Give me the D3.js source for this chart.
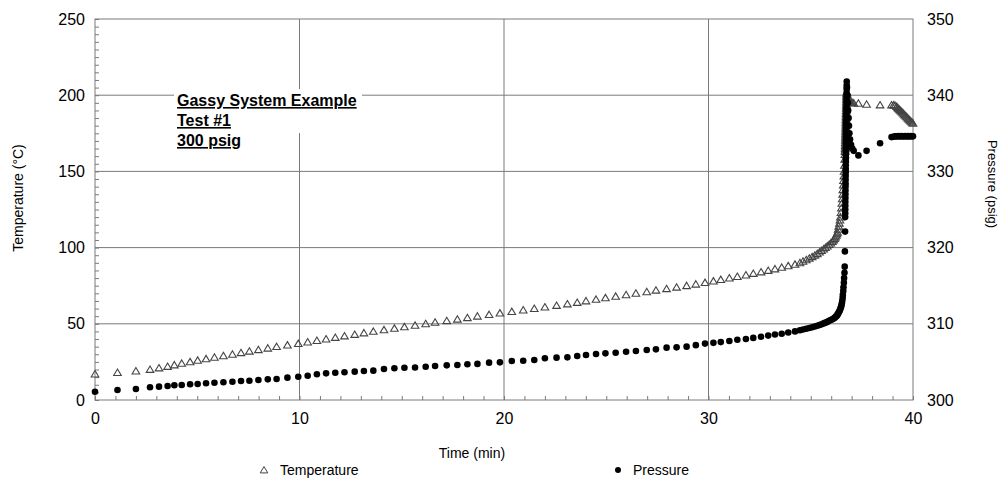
<!DOCTYPE html>
<html>
<head>
<meta charset="utf-8">
<title>Gassy System Example</title>
<script src="https://cdn.jsdelivr.net/npm/d3@7"></script>
<style>
    body { margin: 0; background: #fff; }
    text { font-family: Arial, "Liberation Sans", sans-serif; fill: #000; }
</style>
</head>
<body>
<div id="chart"></div>
<script>
var timeMin = [
    0, 1.1, 2.0, 2.69, 3.13, 3.55, 3.88, 4.24, 4.65, 5.02,
    5.43, 5.84, 6.28, 6.72, 7.14, 7.55, 7.99, 8.45, 8.88, 9.41,
    9.94, 10.40, 10.85, 11.30, 11.75, 12.20, 12.70, 13.15, 13.61, 14.13,
    14.64, 15.13, 15.65, 16.17, 16.63, 17.20, 17.72, 18.21, 18.70, 19.27,
    19.80, 20.38, 20.94, 21.48, 22.00, 22.57, 23.10, 23.58, 24.01, 24.50,
    24.96, 25.46, 25.97, 26.45, 26.98, 27.43, 27.95, 28.44, 28.93, 29.38,
    29.83, 30.24, 30.60, 31.02, 31.41, 31.83, 32.19, 32.57, 32.92, 33.25,
    33.58, 33.90, 34.23, 34.47, 34.62, 34.78, 34.93, 35.07, 35.20, 35.32,
    35.43, 35.53, 35.63, 35.72, 35.81, 35.90, 35.98, 36.06, 36.12, 36.17,
    36.21, 36.25, 36.28, 36.31, 36.34, 36.37, 36.40, 36.43, 36.45, 36.48,
    36.50, 36.52, 36.54, 36.56, 36.57, 36.59, 36.60, 36.62, 36.63, 36.65,
    36.66, 36.67, 36.68, 36.684, 36.686, 36.688, 36.690, 36.692, 36.694, 36.696,
    36.698, 36.700, 36.702, 36.704, 36.706, 36.708, 36.710, 36.712, 36.714, 36.716,
    36.718, 36.720, 36.722, 36.724, 36.726, 36.728, 36.730, 36.732, 36.734, 36.736,
    36.738, 36.740, 36.742, 36.744, 36.746, 36.748, 36.750, 36.752, 36.754, 36.756,
    36.758, 36.760, 36.77, 36.79, 36.81, 36.83, 36.85, 36.87, 36.89, 36.92,
    36.97, 37.03, 37.10, 37.33, 37.73, 38.39, 38.95, 39.05, 39.12, 39.20,
    39.25, 39.30, 39.35, 39.40, 39.45, 39.50, 39.55, 39.60, 39.65, 39.70,
    39.75, 39.80, 39.85, 39.90, 39.95, 40.00
];

var tempC = [
    17, 18, 19, 20, 21, 22, 23, 24, 25, 26,
    27, 28, 29, 30, 31, 32, 33, 34, 35, 36,
    37, 38, 39, 40, 41, 42, 43, 44, 45, 46,
    47, 48, 49, 50, 51, 52, 53, 54, 55, 56,
    57, 58, 59, 60, 61, 62, 63, 64, 65, 66,
    67, 68, 69, 70, 71, 72, 73, 74, 75, 76,
    77, 78, 79, 80, 81, 82, 83, 84, 85, 86,
    87, 88, 89, 90, 91, 92, 93, 94, 95, 96,
    97, 98, 99, 100, 101, 102, 103, 104, 105, 106,
    107, 108, 109, 110, 112, 114, 116, 118, 120, 123,
    126, 129, 132, 135, 138, 141, 144, 147, 150, 154,
    158, 161, 163, 164, 165, 166, 167, 168, 169, 170,
    171, 172, 173, 174, 175, 176, 177, 178, 179, 180,
    181, 182, 183, 184, 185, 186, 187, 188, 189, 190,
    191, 192, 193, 194, 195, 196, 197, 198, 199, 200,
    201, 202, 201, 200, 199, 198, 197, 196.5, 196, 195.5,
    195.2, 195.0, 194.8, 194.7, 194.0, 193.6, 193.6, 193.6, 193.3, 192.5,
    191.8, 191.1, 190.5, 189.8, 189.1, 188.4, 187.7, 187.0, 186.3, 185.6,
    184.9, 184.2, 183.5, 182.8, 182.2, 181.6
];

var pressPsig = [
    301.09, 301.31, 301.44, 301.67, 301.75, 301.84, 301.93, 301.97, 302.06, 302.10,
    302.19, 302.27, 302.32, 302.40, 302.49, 302.53, 302.62, 302.71, 302.76, 302.93,
    303.06, 303.19, 303.37, 303.50, 303.58, 303.65, 303.72, 303.80, 303.85, 304.07,
    304.16, 304.24, 304.26, 304.37, 304.46, 304.55, 304.59, 304.70, 304.74, 304.90,
    304.94, 305.12, 305.16, 305.25, 305.47, 305.56, 305.60, 305.77, 305.91, 306.04,
    306.12, 306.21, 306.34, 306.43, 306.56, 306.65, 306.87, 306.91, 307.00, 307.20,
    307.40, 307.50, 307.60, 307.75, 307.90, 308.00, 308.15, 308.30, 308.45, 308.60,
    308.70, 308.85, 309.00, 309.15, 309.25, 309.35, 309.45, 309.55, 309.65, 309.75,
    309.85, 309.95, 310.05, 310.15, 310.25, 310.40, 310.50, 310.60, 310.70, 310.80,
    310.90, 311.00, 311.10, 311.20, 311.35, 311.50, 311.65, 311.80, 312.00, 312.20,
    312.40, 312.70, 313.00, 313.40, 313.80, 314.30, 314.80, 315.40, 316.00, 316.70,
    317.50, 319.50, 322.10, 324.0, 324.5, 325.0, 325.5, 326.0, 326.5, 327.0,
    327.5, 328.0, 328.4, 328.9, 329.4, 329.9, 330.3, 330.8, 331.3, 331.7,
    332.2, 332.7, 333.1, 333.6, 334.0, 334.5, 334.9, 335.4, 335.8, 336.3,
    336.7, 337.2, 337.6, 338.1, 338.5, 339.0, 339.4, 339.9, 340.3, 340.8,
    341.3, 341.8, 341.0, 340.0, 339.0, 338.0, 337.0, 336.0, 335.0, 334.2,
    333.5, 333.0, 332.7, 332.1, 332.7, 333.7, 334.50, 334.55, 334.60, 334.60,
    334.60, 334.65, 334.60, 334.60, 334.65, 334.60, 334.60, 334.65, 334.60, 334.60,
    334.65, 334.60, 334.60, 334.65, 334.60, 334.60
];

var timeTicks = [0, 10, 20, 30, 40];
var tempTicks = [0, 50, 100, 150, 200, 250];
var pressTicks = [300, 310, 320, 330, 340, 350];
var noteLines = ["Gassy System Example", "Test #1", "300 psig"];
var seriesNames = ["Temperature", "Pressure"];

var svgW = 1002;
var svgH = 485;
var plot = { left: 95, right: 913, top: 19, bottom: 400 };
var gridColor = "#7a7a7a";

var rows = timeMin.map(function(t, i) {
    return { t: t, temp: tempC[i], press: pressPsig[i] };
});

var svg = d3.select("#chart")
    .append("svg")
    .attr("width", svgW)
    .attr("height", svgH);

var xScale = d3.scaleLinear().domain([0, 40]).range([plot.left, plot.right]);
var yTemp = d3.scaleLinear().domain([0, 250]).range([plot.bottom, plot.top]);
var yPress = d3.scaleLinear().domain([300, 350]).range([plot.bottom, plot.top]);

// grid
var gridG = svg.append("g")
    .attr("stroke", gridColor)
    .attr("stroke-width", 1);

gridG.selectAll(".hgrid")
    .data(tempTicks.slice(1, -1))
    .enter()
    .append("line")
    .attr("x1", plot.left)
    .attr("x2", plot.right)
    .attr("y1", function(d) { return yTemp(d) })
    .attr("y2", function(d) { return yTemp(d) });

gridG.selectAll(".vgrid")
    .data(timeTicks.slice(1, -1))
    .enter()
    .append("line")
    .attr("x1", function(d) { return xScale(d) })
    .attr("x2", function(d) { return xScale(d) })
    .attr("y1", plot.top)
    .attr("y2", plot.bottom);

svg.append("rect")
    .attr("x", plot.left)
    .attr("y", plot.top)
    .attr("width", plot.right - plot.left)
    .attr("height", plot.bottom - plot.top)
    .attr("fill", "none")
    .attr("stroke", gridColor)
    .attr("stroke-width", 1);

// minor ticks, pointing into the plot
var tickG = svg.append("g");

tickG.append("g")
    .attr("transform", `translate(${plot.left}, 0)`)
    .call(d3.axisRight(yTemp).tickValues(d3.range(0, 251, 5)).tickSize(4).tickFormat(""));

tickG.append("g")
    .attr("transform", `translate(0, ${plot.bottom})`)
    .call(d3.axisTop(xScale).tickValues(d3.range(0, 41, 1)).tickSize(4).tickFormat(""));

tickG.selectAll(".domain").remove();
tickG.selectAll("line").attr("stroke", gridColor);

// tick labels
var leftAxis = svg.append("g")
    .attr("transform", `translate(${plot.left}, 0)`)
    .call(d3.axisLeft(yTemp).tickValues(tempTicks).tickSize(0).tickPadding(10));

var bottomAxis = svg.append("g")
    .attr("transform", `translate(0, ${plot.bottom})`)
    .call(d3.axisBottom(xScale).tickValues(timeTicks).tickSize(0).tickPadding(13));

var rightAxis = svg.append("g")
    .attr("transform", `translate(${plot.right}, 0)`)
    .call(d3.axisRight(yPress).tickValues(pressTicks).tickSize(0).tickPadding(14));

[leftAxis, bottomAxis, rightAxis].forEach(function(a) {
    a.select(".domain").remove();
    a.selectAll("text")
        .attr("font-family", "Arial, 'Liberation Sans', sans-serif")
        .attr("font-size", 16)
        .attr("fill", "#000");
});

// axis titles
svg.append("text")
    .attr("transform", "translate(23, 198) rotate(-90)")
    .attr("text-anchor", "middle")
    .attr("font-size", 14)
    .text("Temperature (°C)");

svg.append("text")
    .attr("transform", "translate(988, 184) rotate(90)")
    .attr("text-anchor", "middle")
    .attr("font-size", 13)
    .text("Pressure (psig)");

svg.append("text")
    .attr("x", 472)
    .attr("y", 458)
    .attr("text-anchor", "middle")
    .attr("font-size", 14)
    .text("Time (min)");

// note box
svg.append("rect")
    .attr("x", 174)
    .attr("y", 89)
    .attr("width", 188)
    .attr("height", 44)
    .attr("fill", "#fff");

svg.selectAll(".note")
    .data(noteLines)
    .enter()
    .append("text")
    .attr("class", "note")
    .attr("x", 177)
    .attr("y", function(d, i) { return 106 + i * 20 })
    .attr("font-size", 16)
    .attr("font-weight", "bold")
    .style("text-decoration", "underline")
    .text(function(d) { return d });

// series
var triPath = "M0,-3.5L3.8,2.9L-3.8,2.9Z";

svg.append("g")
    .selectAll("path")
    .data(rows)
    .enter()
    .append("path")
    .attr("d", triPath)
    .attr("transform", function(d) { return `translate(${xScale(d.t)}, ${yTemp(d.temp)})` })
    .attr("fill", "none")
    .attr("stroke", "#444")
    .attr("stroke-width", 1.1);

svg.append("g")
    .selectAll("circle")
    .data(rows)
    .enter()
    .append("circle")
    .attr("cx", function(d) { return xScale(d.t) })
    .attr("cy", function(d) { return yPress(d.press) })
    .attr("r", 3.3)
    .attr("fill", "#000");

// legend
var legend = svg.append("g");

legend.append("path")
    .attr("d", triPath)
    .attr("transform", "translate(264, 470)")
    .attr("fill", "none")
    .attr("stroke", "#444");

legend.append("text")
    .attr("x", 280)
    .attr("y", 475)
    .attr("font-size", 14)
    .text(seriesNames[0]);

legend.append("circle")
    .attr("cx", 618)
    .attr("cy", 470)
    .attr("r", 3)
    .attr("fill", "#000");

legend.append("text")
    .attr("x", 633)
    .attr("y", 475)
    .attr("font-size", 14)
    .text(seriesNames[1]);
</script>
</body>
</html>
